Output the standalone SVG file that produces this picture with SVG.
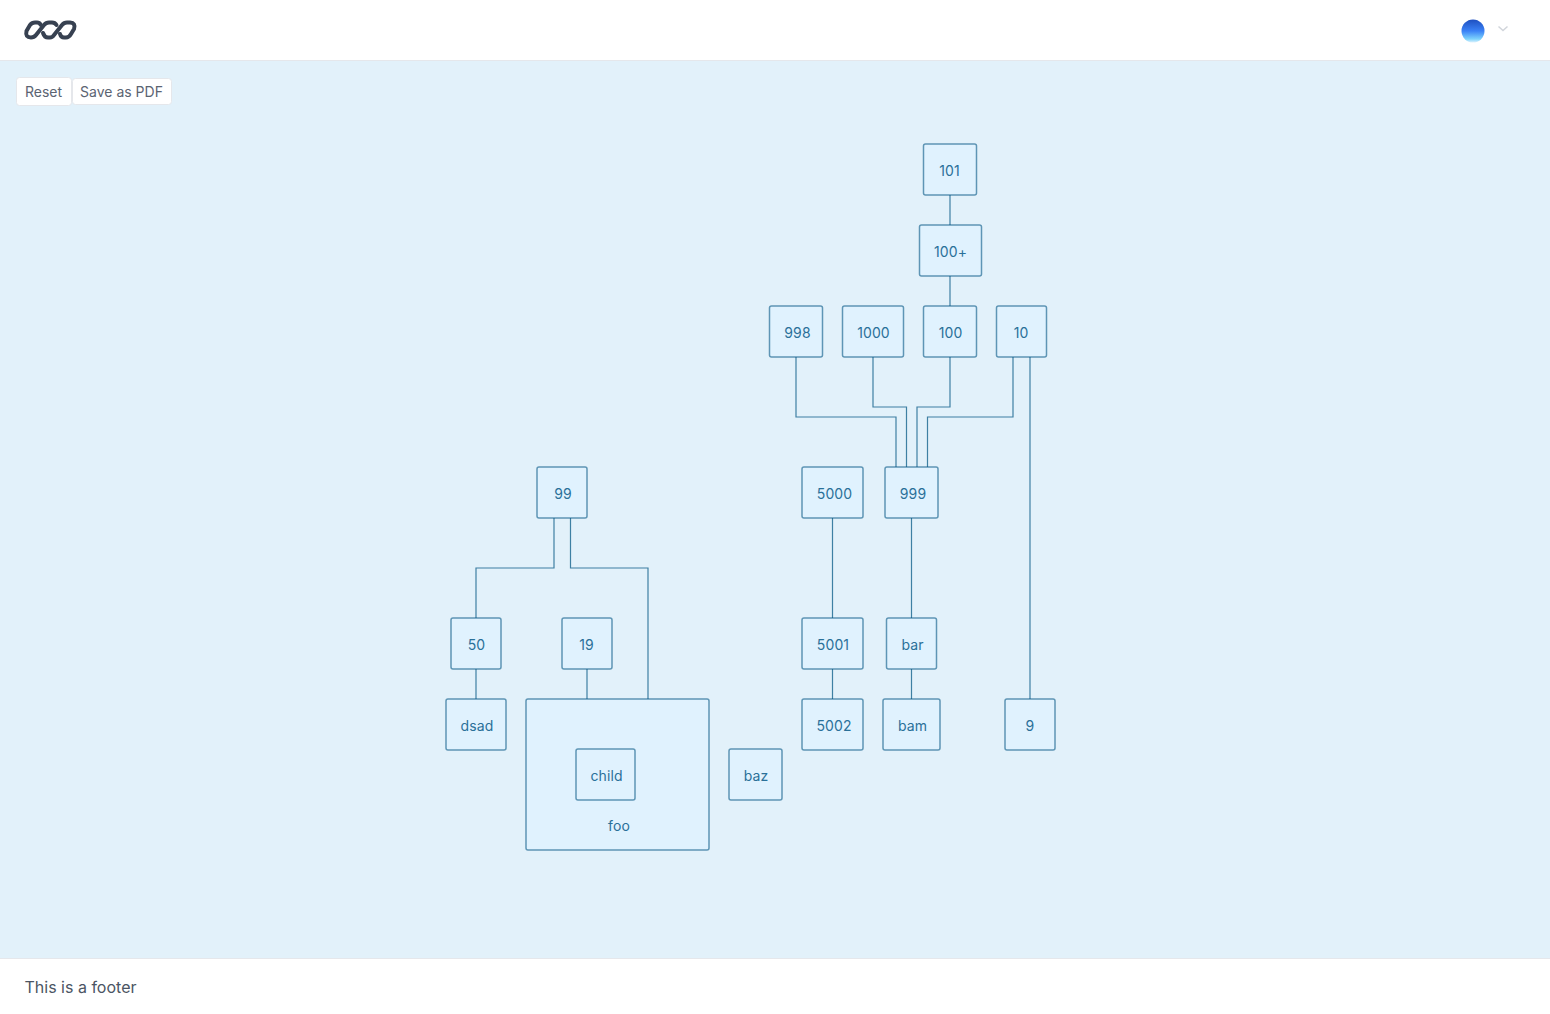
<svg xmlns="http://www.w3.org/2000/svg" width="1550" height="1014" viewBox="0 0 1550 1014">
<style>
text{font-family:Inter,"Noto Sans","Liberation Sans",sans-serif}
.n rect{fill:#e0f2fe;stroke:#075985;stroke-opacity:.6;stroke-width:1.5}
.n text{font-size:14px;fill:#2a7099;letter-spacing:.1px;text-anchor:middle}
.c path{fill:none;stroke:#075985;stroke-opacity:.75;stroke-width:1.2}
.b rect{fill:#fff;stroke:#e5e7eb;stroke-width:1}
.b text{font-size:14px;fill:#5b6472;text-anchor:middle}
</style>
<defs><linearGradient id="g" x1="0" y1="0" x2="0" y2="1"><stop offset="0" stop-color="#1e4fc0"/><stop offset=".5" stop-color="#3b82f6"/><stop offset=".85" stop-color="#7dd3fc"/><stop offset="1" stop-color="#e0f2fe"/></linearGradient></defs>
<rect width="1550" height="1014" fill="#fff"/>
<rect y="60" width="1550" height="899" fill="#e2f1fa"/>
<path d="M0 60.500H1550M0 958.500H1550" stroke="#e5e7eb" fill="none"/>
<g id="logo" fill="none" stroke="#374151" stroke-width="4" stroke-linecap="round" stroke-linejoin="round">
<path d="M40.500 24.500Q39.500 22.500 37 22.500H35Q32 22.500 30 25L26.500 31Q25 37.500 31 37.500Q34 37.500 36 35L44 25Q46 22.500 49 22.500H52Q55 22.500 56.500 25"/>
<path d="M43 33Q44.500 37.500 48 37.500H50Q52.500 37.500 54 35L62 25Q64 22.500 67 22.500H70Q76 23 74 29L71 34Q69 37.500 66 37.500H64Q61 37.500 60 34"/>
</g>
<g id="avatar"><circle cx="1473" cy="31" r="11.500" fill="url(#g)"/><path d="M1498.500 26.500L1503 30.500L1507.500 26.500" fill="none" stroke="#d1d5db" stroke-width="1.500"/></g>
<g id="reset" class="b"><rect x="16.500" y="77.500" width="55" height="28" rx="3"/><text x="43.500" y="97">Reset</text></g>
<g id="savepdf" class="b"><rect x="72.500" y="78.500" width="99" height="26" rx="3"/><text x="121.500" y="97">Save as PDF</text></g>
<g id="connectors" class="c">
<path d="M950 195V225M950 276V306M950 357V407H917V467M873 357V407H906.500V467M796 357V417H896V467M1013 357V417H927.500V467M1030 357V699M832.500 518V618M911.500 518V618M832.500 669V699M911.500 669V699M554 518V568H476V618M570.500 518V568H648V699M476 669V699M587 669V699"/>
</g>
<g id="n101" class="n"><rect x="923.500" y="144" width="53" height="51" rx="2"/><text x="949.500" y="176">101</text></g>
<g id="n100p" class="n"><rect x="919.500" y="225" width="62" height="51" rx="2"/><text x="950.500" y="257">100+</text></g>
<g id="n998" class="n"><rect x="769.500" y="306" width="53" height="51" rx="2"/><text x="797.500" y="338">998</text></g>
<g id="n1000" class="n"><rect x="842.500" y="306" width="61" height="51" rx="2"/><text x="873.500" y="338">1000</text></g>
<g id="n100" class="n"><rect x="923.500" y="306" width="53" height="51" rx="2"/><text x="950.500" y="338">100</text></g>
<g id="n10" class="n"><rect x="996.500" y="306" width="50" height="51" rx="2"/><text x="1021" y="338">10</text></g>
<g id="n99" class="n"><rect x="537" y="467" width="50" height="51" rx="2"/><text x="563" y="499">99</text></g>
<g id="n5000" class="n"><rect x="802" y="467" width="61" height="51" rx="2"/><text x="834.500" y="499">5000</text></g>
<g id="n999" class="n"><rect x="885" y="467" width="53" height="51" rx="2"/><text x="913" y="499">999</text></g>
<g id="n50" class="n"><rect x="451" y="618" width="50" height="51" rx="2"/><text x="476.500" y="650">50</text></g>
<g id="n19" class="n"><rect x="562" y="618" width="50" height="51" rx="2"/><text x="586.500" y="650">19</text></g>
<g id="n5001" class="n"><rect x="802" y="618" width="61" height="51" rx="2"/><text x="833" y="650">5001</text></g>
<g id="nbar" class="n"><rect x="886.500" y="618" width="50" height="51" rx="2"/><text x="912.500" y="650">bar</text></g>
<g id="ndsad" class="n"><rect x="446" y="699" width="60" height="51" rx="2"/><text x="477" y="731">dsad</text></g>
<g id="nfoo" class="n"><rect x="526" y="699" width="183" height="151" rx="2"/><text x="619" y="831">foo</text></g>
<g id="nchild" class="n"><rect x="576" y="749" width="59" height="51" rx="2"/><text x="606.500" y="781">child</text></g>
<g id="n5002" class="n"><rect x="802" y="699" width="61" height="51" rx="2"/><text x="834" y="731">5002</text></g>
<g id="nbam" class="n"><rect x="883" y="699" width="57" height="51" rx="2"/><text x="912.500" y="731">bam</text></g>
<g id="n9" class="n"><rect x="1005" y="699" width="50" height="51" rx="2"/><text x="1030" y="731">9</text></g>
<g id="nbaz" class="n"><rect x="729" y="749" width="53" height="51" rx="2"/><text x="756" y="781">baz</text></g>
<text id="footer" x="24.500" y="993" font-size="16" fill="#4b5563">This is a footer</text>
</svg>
